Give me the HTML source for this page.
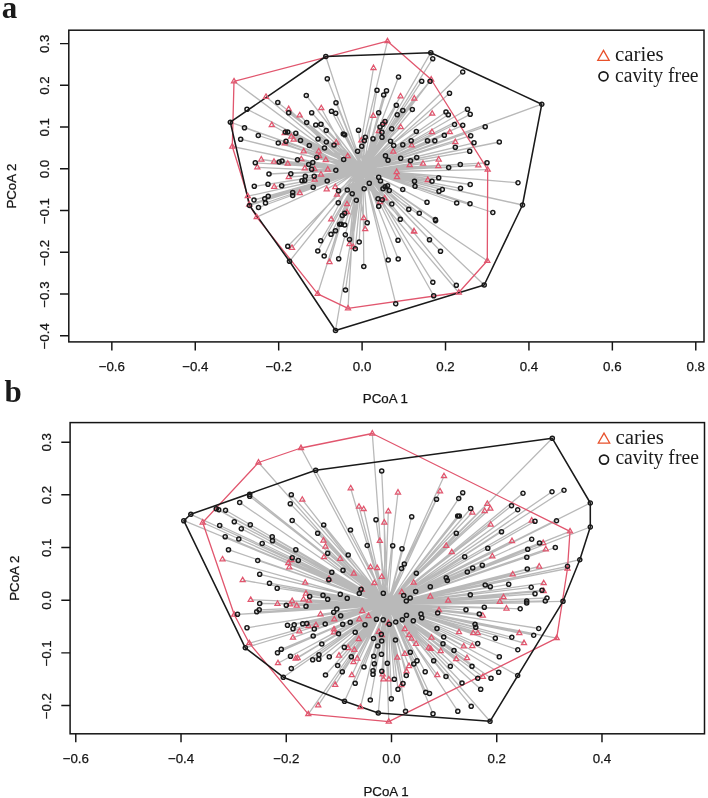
<!DOCTYPE html>
<html><head><meta charset="utf-8"><title>PCoA</title>
<style>
html,body{margin:0;padding:0;background:#fff}
svg{display:block}
.tl{font-family:"Liberation Sans",sans-serif;font-size:13.3px;fill:#151515;stroke:#151515;stroke-width:0.25px}
.lg{font-family:"Liberation Serif",serif;font-size:20px;fill:#1a1a1a}
.pl{font-family:"Liberation Serif",serif;font-size:31px;font-weight:bold;fill:#1a1a1a}
</style></head><body>
<svg width="708" height="798" viewBox="0 0 708 798">
<rect width="708" height="798" fill="#fff"/>
<text x="1.8" y="17.8" class="pl">a</text>
<text x="4.6" y="402.1" class="pl">b</text>
<path d="M363 169.5L325.8 56.5M363 169.5L327.3 78.8M363 169.5L306.3 95.5M363 169.5L336.0 102.7M363 169.5L277.8 102.5M363 169.5L247.0 109.2M363 169.5L230.3 122.2M363 169.5L288.7 112.8M363 169.5L311.7 112.7M363 169.5L331.5 111.2M363 169.5L335.7 113.3M363 169.5L306.7 122.5M363 169.5L315.8 125.0M363 169.5L321.0 124.3M363 169.5L244.5 127.7M363 169.5L326.2 130.5M363 169.5L285.3 132.0M363 169.5L287.7 132.0M363 169.5L295.8 133.3M363 169.5L258.3 135.5M363 169.5L240.7 139.2M363 169.5L318.0 139.0M363 169.5L300.5 140.5M363 169.5L286.0 141.3M363 169.5L278.3 143.0M363 169.5L326.3 142.0M363 169.5L309.3 145.5M363 169.5L334.0 145.0M363 169.5L324.5 148.0M363 169.5L255.3 162.8M363 169.5L279.2 162.0M363 169.5L282.0 161.0M363 169.5L297.5 159.7M363 169.5L316.7 157.5M363 169.5L312.8 162.5M363 169.5L308.7 164.5M363 169.5L430.8 52.7M363 169.5L432.7 58.7M363 169.5L398.5 77.0M363 169.5L421.7 81.2M363 169.5L430.0 81.2M363 169.5L449.5 93.3M363 169.5L377.0 90.3M363 169.5L386.5 90.7M363 169.5L383.7 95.0M363 169.5L396.3 105.3M363 169.5L402.8 110.5M363 169.5L412.3 109.5M363 169.5L397.2 114.8M363 169.5L378.7 112.7M363 169.5L446.0 112.0M363 169.5L448.3 114.8M363 169.5L385.0 121.5M363 169.5L382.7 124.2M363 169.5L380.0 127.0M363 169.5L391.7 128.8M363 169.5L454.5 124.5M363 169.5L358.5 130.3M363 169.5L416.3 131.5M363 169.5L382.0 132.3M363 169.5L344.7 134.8M363 169.5L343.3 134.0M363 169.5L365.3 137.3M363 169.5L382.0 137.3M363 169.5L373.0 138.7M363 169.5L364.3 140.7M363 169.5L444.3 135.3M363 169.5L390.5 141.2M363 169.5L411.2 140.8M363 169.5L427.5 140.8M363 169.5L434.8 140.7M363 169.5L393.7 145.5M363 169.5L402.8 144.7M363 169.5L361.7 146.2M363 169.5L357.5 151.3M363 169.5L455.3 147.3M363 169.5L385.5 155.7M363 169.5L388.0 160.3M363 169.5L400.7 158.3M363 169.5L410.5 160.7M363 169.5L416.7 157.5M363 169.5L343.7 159.5M363 169.5L462.7 72.0M363 169.5L467.5 109.2M363 169.5L470.2 114.3M363 169.5L462.7 125.3M363 169.5L485.2 126.7M363 169.5L470.7 135.7M363 169.5L474.0 142.8M363 169.5L499.3 142.0M363 169.5L469.7 151.3M363 169.5L541.8 104.2M363 169.5L487.0 162.8M363 169.5L460.3 164.5M363 169.5L311.7 169.2M363 169.5L335.8 170.3M363 169.5L269.0 174.0M363 169.5L290.8 173.7M363 169.5L305.3 176.3M363 169.5L314.2 176.3M363 169.5L302.0 180.8M363 169.5L304.7 180.5M363 169.5L327.2 181.0M363 169.5L268.0 184.3M363 169.5L281.7 185.8M363 169.5L254.3 186.3M363 169.5L313.2 187.3M363 169.5L292.7 192.5M363 169.5L292.7 195.5M363 169.5L268.2 196.3M363 169.5L264.7 198.8M363 169.5L254.0 200.0M363 169.5L265.5 203.0M363 169.5L258.5 207.5M363 169.5L249.5 205.5M363 169.5L338.3 202.8M363 169.5L339.7 224.2M363 169.5L335.5 230.8M363 169.5L331.0 234.3M363 169.5L320.7 240.8M363 169.5L287.8 246.3M363 169.5L317.8 251.0M363 169.5L324.2 256.0M363 169.5L338.7 258.8M363 169.5L289.5 261.3M363 169.5L448.7 167.5M363 169.5L438.7 177.8M363 169.5L378.7 177.3M363 169.5L380.5 181.0M363 169.5L414.5 181.3M363 169.5L432.0 181.2M363 169.5L369.3 183.3M363 169.5L387.5 185.8M363 169.5L385.0 186.7M363 169.5L415.0 186.3M363 169.5L383.0 188.7M363 169.5L364.2 188.7M363 169.5L389.3 190.5M363 169.5L402.7 189.5M363 169.5L442.3 189.5M363 169.5L439.0 191.3M363 169.5L347.3 190.0M363 169.5L352.2 193.7M363 169.5L356.3 200.3M363 169.5L378.0 198.8M363 169.5L382.2 199.7M363 169.5L427.0 202.3M363 169.5L456.7 203.0M363 169.5L391.8 204.0M363 169.5L378.7 206.3M363 169.5L408.8 209.3M363 169.5L419.3 213.2M363 169.5L344.7 213.3M363 169.5L342.3 215.5M363 169.5L435.3 219.5M363 169.5L400.3 219.2M363 169.5L367.2 222.7M363 169.5L341.3 224.2M363 169.5L344.7 225.0M363 169.5L345.3 234.7M363 169.5L349.5 239.5M363 169.5L359.2 242.0M363 169.5L398.0 240.3M363 169.5L429.5 239.8M363 169.5L355.3 248.7M363 169.5L440.5 251.2M363 169.5L388.2 260.0M363 169.5L398.2 259.0M363 169.5L363.8 266.5M363 169.5L432.8 282.2M363 169.5L456.3 285.3M363 169.5L345.5 290.0M363 169.5L433.7 295.8M363 169.5L518.0 182.8M363 169.5L470.2 184.5M363 169.5L460.5 188.3M363 169.5L470.0 203.7M363 169.5L492.8 212.5M363 169.5L522.5 205.0M363 169.5L484.2 285.0M363 169.5L335.5 330.5M363 169.5L395.7 303.7M363 169.5L338.5 190.8M363 169.5L435.6 220.6M356 172L234.0 81.3M356 172L266.0 96.8M356 172L288.7 109.0M356 172L321.3 108.2M356 172L299.7 115.3M356 172L271.8 125.0M356 172L284.7 133.2M356 172L291.3 136.7M356 172L293.7 139.5M356 172L284.8 143.3M356 172L232.3 146.5M356 172L303.7 151.3M356 172L318.7 151.3M356 172L336.3 142.5M356 172L261.3 159.5M356 172L274.0 161.7M356 172L301.3 159.2M356 172L319.2 156.2M356 172L325.8 160.0M356 172L287.8 163.7M356 172L387.5 41.2M356 172L373.5 68.0M356 172L431.2 79.5M356 172L400.5 96.3M356 172L414.3 98.5M356 172L373.2 115.8M356 172L432.2 113.7M356 172L383.7 122.8M356 172L400.7 127.2M356 172L378.7 131.2M356 172L432.0 132.0M356 172L449.8 132.2M356 172L361.3 140.3M356 172L411.7 145.3M356 172L455.3 142.0M356 172L393.3 151.7M356 172L347.7 156.2M356 172L438.7 159.5M356 172L423.0 163.7M356 172L409.7 165.0M356 172L478.3 165.3M356 172L257.3 167.3M356 172L304.8 168.3M356 172L314.5 169.2M356 172L327.8 169.5M356 172L321.0 174.5M356 172L288.8 177.0M356 172L314.7 179.7M356 172L274.2 186.8M356 172L326.7 189.3M356 172L335.3 187.0M356 172L299.8 193.0M356 172L337.0 194.7M356 172L247.8 196.2M356 172L249.2 204.5M356 172L256.7 217.2M356 172L331.2 219.3M356 172L292.0 247.8M356 172L329.5 262.0M356 172L317.7 293.8M356 172L396.7 172.0M356 172L397.0 177.0M356 172L427.8 180.0M356 172L384.7 198.3M356 172L380.0 202.0M356 172L347.0 204.2M356 172L347.0 212.2M356 172L363.8 218.2M356 172L365.2 229.2M356 172L414.0 231.2M356 172L414.3 231.7M356 172L349.5 244.0M356 172L353.3 247.0M356 172L487.7 169.7M356 172L487.3 260.8M356 172L458.8 292.5M356 172L348 308.3M356 172L438.3 166" stroke="#b9b9b9" stroke-width="1.3" fill="none"/>
<path d="M234 81.3 L387.5 41.2 L431.2 79.5 L487.7 169.7 L487.3 260.8 L458.8 292.5 L348 308.3 L317.7 293.8 L256.7 217.2 L249.2 204.5 L247.8 196.2 L232.3 146.5Z" stroke="#e1566e" stroke-width="1.3" fill="none" stroke-linejoin="round"/>
<path d="M230.3 122.2 L325.8 56.5 L430.8 52.7 L541.8 104.2 L522.5 205 L484.2 285 L335.5 330.5 L289.5 261.3 L249.5 205.5Z" stroke="#1a1a1a" stroke-width="1.55" fill="none" stroke-linejoin="round"/>
<path d="M234.0 78.39999999999999L236.55 82.8L231.45 82.8ZM266.0 93.89999999999999L268.55 98.3L263.45 98.3ZM288.7 106.1L291.25 110.5L286.15 110.5ZM321.3 105.3L323.85 109.7L318.75 109.7ZM299.7 112.39999999999999L302.25 116.8L297.15 116.8ZM271.8 122.1L274.35 126.5L269.25 126.5ZM284.7 130.29999999999998L287.25 134.7L282.15 134.7ZM291.3 133.79999999999998L293.85 138.2L288.75 138.2ZM293.7 136.6L296.25 141.0L291.15 141.0ZM284.8 140.4L287.35 144.8L282.25 144.8ZM232.3 143.6L234.85000000000002 148.0L229.75 148.0ZM303.7 148.4L306.25 152.8L301.15 152.8ZM318.7 148.4L321.25 152.8L316.15 152.8ZM336.3 139.6L338.85 144.0L333.75 144.0ZM261.3 156.6L263.85 161.0L258.75 161.0ZM274.0 158.79999999999998L276.55 163.2L271.45 163.2ZM301.3 156.29999999999998L303.85 160.7L298.75 160.7ZM319.2 153.29999999999998L321.75 157.7L316.65 157.7ZM325.8 157.1L328.35 161.5L323.25 161.5ZM287.8 160.79999999999998L290.35 165.2L285.25 165.2ZM387.5 38.300000000000004L390.05 42.7L384.95 42.7ZM373.5 65.1L376.05 69.5L370.95 69.5ZM431.2 76.6L433.75 81.0L428.65 81.0ZM400.5 93.39999999999999L403.05 97.8L397.95 97.8ZM414.3 95.6L416.85 100.0L411.75 100.0ZM373.2 112.89999999999999L375.75 117.3L370.65 117.3ZM432.2 110.8L434.75 115.2L429.65 115.2ZM383.7 119.89999999999999L386.25 124.3L381.15 124.3ZM400.7 124.3L403.25 128.7L398.15 128.7ZM378.7 128.29999999999998L381.25 132.7L376.15 132.7ZM432.0 129.1L434.55 133.5L429.45 133.5ZM449.8 129.29999999999998L452.35 133.7L447.25 133.7ZM361.3 137.4L363.85 141.8L358.75 141.8ZM411.7 142.4L414.25 146.8L409.15 146.8ZM455.3 139.1L457.85 143.5L452.75 143.5ZM393.3 148.79999999999998L395.85 153.2L390.75 153.2ZM347.7 153.29999999999998L350.25 157.7L345.15 157.7ZM438.7 156.6L441.25 161.0L436.15 161.0ZM423.0 160.79999999999998L425.55 165.2L420.45 165.2ZM409.7 162.1L412.25 166.5L407.15 166.5ZM478.3 162.4L480.85 166.8L475.75 166.8ZM257.3 164.4L259.85 168.8L254.75 168.8ZM304.8 165.4L307.35 169.8L302.25 169.8ZM314.5 166.29999999999998L317.05 170.7L311.95 170.7ZM327.8 166.6L330.35 171.0L325.25 171.0ZM321.0 171.6L323.55 176.0L318.45 176.0ZM288.8 174.1L291.35 178.5L286.25 178.5ZM314.7 176.79999999999998L317.25 181.2L312.15 181.2ZM274.2 183.9L276.75 188.3L271.65 188.3ZM326.7 186.4L329.25 190.8L324.15 190.8ZM335.3 184.1L337.85 188.5L332.75 188.5ZM299.8 190.1L302.35 194.5L297.25 194.5ZM337.0 191.79999999999998L339.55 196.2L334.45 196.2ZM247.8 193.29999999999998L250.35000000000002 197.7L245.25 197.7ZM249.2 201.6L251.75 206.0L246.64999999999998 206.0ZM256.7 214.29999999999998L259.25 218.7L254.14999999999998 218.7ZM331.2 216.4L333.75 220.8L328.65 220.8ZM292.0 244.9L294.55 249.3L289.45 249.3ZM329.5 259.1L332.05 263.5L326.95 263.5ZM317.7 290.90000000000003L320.25 295.3L315.15 295.3ZM396.7 169.1L399.25 173.5L394.15 173.5ZM397.0 174.1L399.55 178.5L394.45 178.5ZM427.8 177.1L430.35 181.5L425.25 181.5ZM384.7 195.4L387.25 199.8L382.15 199.8ZM380.0 199.1L382.55 203.5L377.45 203.5ZM347.0 201.29999999999998L349.55 205.7L344.45 205.7ZM347.0 209.29999999999998L349.55 213.7L344.45 213.7ZM363.8 215.29999999999998L366.35 219.7L361.25 219.7ZM365.2 226.29999999999998L367.75 230.7L362.65 230.7ZM414.0 228.29999999999998L416.55 232.7L411.45 232.7ZM414.3 228.79999999999998L416.85 233.2L411.75 233.2ZM349.5 241.1L352.05 245.5L346.95 245.5ZM353.3 244.1L355.85 248.5L350.75 248.5ZM487.7 166.79999999999998L490.25 171.2L485.15 171.2ZM487.3 257.90000000000003L489.85 262.3L484.75 262.3ZM458.8 289.6L461.35 294.0L456.25 294.0ZM348 305.40000000000003L350.55 309.8L345.45 309.8ZM438.3 163.1L440.85 167.5L435.75 167.5Z" stroke="#e1566e" stroke-width="1.25" fill="none"/>
<path d="M323.75 56.5a2.05 2.05 0 1 0 4.1 0a2.05 2.05 0 1 0 -4.1 0ZM325.25 78.8a2.05 2.05 0 1 0 4.1 0a2.05 2.05 0 1 0 -4.1 0ZM304.25 95.5a2.05 2.05 0 1 0 4.1 0a2.05 2.05 0 1 0 -4.1 0ZM333.95 102.7a2.05 2.05 0 1 0 4.1 0a2.05 2.05 0 1 0 -4.1 0ZM275.75 102.5a2.05 2.05 0 1 0 4.1 0a2.05 2.05 0 1 0 -4.1 0ZM244.95 109.2a2.05 2.05 0 1 0 4.1 0a2.05 2.05 0 1 0 -4.1 0ZM228.25 122.2a2.05 2.05 0 1 0 4.1 0a2.05 2.05 0 1 0 -4.1 0ZM286.65 112.8a2.05 2.05 0 1 0 4.1 0a2.05 2.05 0 1 0 -4.1 0ZM309.65 112.7a2.05 2.05 0 1 0 4.1 0a2.05 2.05 0 1 0 -4.1 0ZM329.45 111.2a2.05 2.05 0 1 0 4.1 0a2.05 2.05 0 1 0 -4.1 0ZM333.65 113.3a2.05 2.05 0 1 0 4.1 0a2.05 2.05 0 1 0 -4.1 0ZM304.65 122.5a2.05 2.05 0 1 0 4.1 0a2.05 2.05 0 1 0 -4.1 0ZM313.75 125.0a2.05 2.05 0 1 0 4.1 0a2.05 2.05 0 1 0 -4.1 0ZM318.95 124.3a2.05 2.05 0 1 0 4.1 0a2.05 2.05 0 1 0 -4.1 0ZM242.45 127.7a2.05 2.05 0 1 0 4.1 0a2.05 2.05 0 1 0 -4.1 0ZM324.15 130.5a2.05 2.05 0 1 0 4.1 0a2.05 2.05 0 1 0 -4.1 0ZM283.25 132.0a2.05 2.05 0 1 0 4.1 0a2.05 2.05 0 1 0 -4.1 0ZM285.65 132.0a2.05 2.05 0 1 0 4.1 0a2.05 2.05 0 1 0 -4.1 0ZM293.75 133.3a2.05 2.05 0 1 0 4.1 0a2.05 2.05 0 1 0 -4.1 0ZM256.25 135.5a2.05 2.05 0 1 0 4.1 0a2.05 2.05 0 1 0 -4.1 0ZM238.64999999999998 139.2a2.05 2.05 0 1 0 4.1 0a2.05 2.05 0 1 0 -4.1 0ZM315.95 139.0a2.05 2.05 0 1 0 4.1 0a2.05 2.05 0 1 0 -4.1 0ZM298.45 140.5a2.05 2.05 0 1 0 4.1 0a2.05 2.05 0 1 0 -4.1 0ZM283.95 141.3a2.05 2.05 0 1 0 4.1 0a2.05 2.05 0 1 0 -4.1 0ZM276.25 143.0a2.05 2.05 0 1 0 4.1 0a2.05 2.05 0 1 0 -4.1 0ZM324.25 142.0a2.05 2.05 0 1 0 4.1 0a2.05 2.05 0 1 0 -4.1 0ZM307.25 145.5a2.05 2.05 0 1 0 4.1 0a2.05 2.05 0 1 0 -4.1 0ZM331.95 145.0a2.05 2.05 0 1 0 4.1 0a2.05 2.05 0 1 0 -4.1 0ZM322.45 148.0a2.05 2.05 0 1 0 4.1 0a2.05 2.05 0 1 0 -4.1 0ZM253.25 162.8a2.05 2.05 0 1 0 4.1 0a2.05 2.05 0 1 0 -4.1 0ZM277.15 162.0a2.05 2.05 0 1 0 4.1 0a2.05 2.05 0 1 0 -4.1 0ZM279.95 161.0a2.05 2.05 0 1 0 4.1 0a2.05 2.05 0 1 0 -4.1 0ZM295.45 159.7a2.05 2.05 0 1 0 4.1 0a2.05 2.05 0 1 0 -4.1 0ZM314.65 157.5a2.05 2.05 0 1 0 4.1 0a2.05 2.05 0 1 0 -4.1 0ZM310.75 162.5a2.05 2.05 0 1 0 4.1 0a2.05 2.05 0 1 0 -4.1 0ZM306.65 164.5a2.05 2.05 0 1 0 4.1 0a2.05 2.05 0 1 0 -4.1 0ZM428.75 52.7a2.05 2.05 0 1 0 4.1 0a2.05 2.05 0 1 0 -4.1 0ZM430.65 58.7a2.05 2.05 0 1 0 4.1 0a2.05 2.05 0 1 0 -4.1 0ZM396.45 77.0a2.05 2.05 0 1 0 4.1 0a2.05 2.05 0 1 0 -4.1 0ZM419.65 81.2a2.05 2.05 0 1 0 4.1 0a2.05 2.05 0 1 0 -4.1 0ZM427.95 81.2a2.05 2.05 0 1 0 4.1 0a2.05 2.05 0 1 0 -4.1 0ZM447.45 93.3a2.05 2.05 0 1 0 4.1 0a2.05 2.05 0 1 0 -4.1 0ZM374.95 90.3a2.05 2.05 0 1 0 4.1 0a2.05 2.05 0 1 0 -4.1 0ZM384.45 90.7a2.05 2.05 0 1 0 4.1 0a2.05 2.05 0 1 0 -4.1 0ZM381.65 95.0a2.05 2.05 0 1 0 4.1 0a2.05 2.05 0 1 0 -4.1 0ZM394.25 105.3a2.05 2.05 0 1 0 4.1 0a2.05 2.05 0 1 0 -4.1 0ZM400.75 110.5a2.05 2.05 0 1 0 4.1 0a2.05 2.05 0 1 0 -4.1 0ZM410.25 109.5a2.05 2.05 0 1 0 4.1 0a2.05 2.05 0 1 0 -4.1 0ZM395.15 114.8a2.05 2.05 0 1 0 4.1 0a2.05 2.05 0 1 0 -4.1 0ZM376.65 112.7a2.05 2.05 0 1 0 4.1 0a2.05 2.05 0 1 0 -4.1 0ZM443.95 112.0a2.05 2.05 0 1 0 4.1 0a2.05 2.05 0 1 0 -4.1 0ZM446.25 114.8a2.05 2.05 0 1 0 4.1 0a2.05 2.05 0 1 0 -4.1 0ZM382.95 121.5a2.05 2.05 0 1 0 4.1 0a2.05 2.05 0 1 0 -4.1 0ZM380.65 124.2a2.05 2.05 0 1 0 4.1 0a2.05 2.05 0 1 0 -4.1 0ZM377.95 127.0a2.05 2.05 0 1 0 4.1 0a2.05 2.05 0 1 0 -4.1 0ZM389.65 128.8a2.05 2.05 0 1 0 4.1 0a2.05 2.05 0 1 0 -4.1 0ZM452.45 124.5a2.05 2.05 0 1 0 4.1 0a2.05 2.05 0 1 0 -4.1 0ZM356.45 130.3a2.05 2.05 0 1 0 4.1 0a2.05 2.05 0 1 0 -4.1 0ZM414.25 131.5a2.05 2.05 0 1 0 4.1 0a2.05 2.05 0 1 0 -4.1 0ZM379.95 132.3a2.05 2.05 0 1 0 4.1 0a2.05 2.05 0 1 0 -4.1 0ZM342.65 134.8a2.05 2.05 0 1 0 4.1 0a2.05 2.05 0 1 0 -4.1 0ZM341.25 134.0a2.05 2.05 0 1 0 4.1 0a2.05 2.05 0 1 0 -4.1 0ZM363.25 137.3a2.05 2.05 0 1 0 4.1 0a2.05 2.05 0 1 0 -4.1 0ZM379.95 137.3a2.05 2.05 0 1 0 4.1 0a2.05 2.05 0 1 0 -4.1 0ZM370.95 138.7a2.05 2.05 0 1 0 4.1 0a2.05 2.05 0 1 0 -4.1 0ZM362.25 140.7a2.05 2.05 0 1 0 4.1 0a2.05 2.05 0 1 0 -4.1 0ZM442.25 135.3a2.05 2.05 0 1 0 4.1 0a2.05 2.05 0 1 0 -4.1 0ZM388.45 141.2a2.05 2.05 0 1 0 4.1 0a2.05 2.05 0 1 0 -4.1 0ZM409.15 140.8a2.05 2.05 0 1 0 4.1 0a2.05 2.05 0 1 0 -4.1 0ZM425.45 140.8a2.05 2.05 0 1 0 4.1 0a2.05 2.05 0 1 0 -4.1 0ZM432.75 140.7a2.05 2.05 0 1 0 4.1 0a2.05 2.05 0 1 0 -4.1 0ZM391.65 145.5a2.05 2.05 0 1 0 4.1 0a2.05 2.05 0 1 0 -4.1 0ZM400.75 144.7a2.05 2.05 0 1 0 4.1 0a2.05 2.05 0 1 0 -4.1 0ZM359.65 146.2a2.05 2.05 0 1 0 4.1 0a2.05 2.05 0 1 0 -4.1 0ZM355.45 151.3a2.05 2.05 0 1 0 4.1 0a2.05 2.05 0 1 0 -4.1 0ZM453.25 147.3a2.05 2.05 0 1 0 4.1 0a2.05 2.05 0 1 0 -4.1 0ZM383.45 155.7a2.05 2.05 0 1 0 4.1 0a2.05 2.05 0 1 0 -4.1 0ZM385.95 160.3a2.05 2.05 0 1 0 4.1 0a2.05 2.05 0 1 0 -4.1 0ZM398.65 158.3a2.05 2.05 0 1 0 4.1 0a2.05 2.05 0 1 0 -4.1 0ZM408.45 160.7a2.05 2.05 0 1 0 4.1 0a2.05 2.05 0 1 0 -4.1 0ZM414.65 157.5a2.05 2.05 0 1 0 4.1 0a2.05 2.05 0 1 0 -4.1 0ZM341.65 159.5a2.05 2.05 0 1 0 4.1 0a2.05 2.05 0 1 0 -4.1 0ZM460.65 72.0a2.05 2.05 0 1 0 4.1 0a2.05 2.05 0 1 0 -4.1 0ZM465.45 109.2a2.05 2.05 0 1 0 4.1 0a2.05 2.05 0 1 0 -4.1 0ZM468.15 114.3a2.05 2.05 0 1 0 4.1 0a2.05 2.05 0 1 0 -4.1 0ZM460.65 125.3a2.05 2.05 0 1 0 4.1 0a2.05 2.05 0 1 0 -4.1 0ZM483.15 126.7a2.05 2.05 0 1 0 4.1 0a2.05 2.05 0 1 0 -4.1 0ZM468.65 135.7a2.05 2.05 0 1 0 4.1 0a2.05 2.05 0 1 0 -4.1 0ZM471.95 142.8a2.05 2.05 0 1 0 4.1 0a2.05 2.05 0 1 0 -4.1 0ZM497.25 142.0a2.05 2.05 0 1 0 4.1 0a2.05 2.05 0 1 0 -4.1 0ZM467.65 151.3a2.05 2.05 0 1 0 4.1 0a2.05 2.05 0 1 0 -4.1 0ZM539.75 104.2a2.05 2.05 0 1 0 4.1 0a2.05 2.05 0 1 0 -4.1 0ZM484.95 162.8a2.05 2.05 0 1 0 4.1 0a2.05 2.05 0 1 0 -4.1 0ZM458.25 164.5a2.05 2.05 0 1 0 4.1 0a2.05 2.05 0 1 0 -4.1 0ZM309.65 169.2a2.05 2.05 0 1 0 4.1 0a2.05 2.05 0 1 0 -4.1 0ZM333.75 170.3a2.05 2.05 0 1 0 4.1 0a2.05 2.05 0 1 0 -4.1 0ZM266.95 174.0a2.05 2.05 0 1 0 4.1 0a2.05 2.05 0 1 0 -4.1 0ZM288.75 173.7a2.05 2.05 0 1 0 4.1 0a2.05 2.05 0 1 0 -4.1 0ZM303.25 176.3a2.05 2.05 0 1 0 4.1 0a2.05 2.05 0 1 0 -4.1 0ZM312.15 176.3a2.05 2.05 0 1 0 4.1 0a2.05 2.05 0 1 0 -4.1 0ZM299.95 180.8a2.05 2.05 0 1 0 4.1 0a2.05 2.05 0 1 0 -4.1 0ZM302.65 180.5a2.05 2.05 0 1 0 4.1 0a2.05 2.05 0 1 0 -4.1 0ZM325.15 181.0a2.05 2.05 0 1 0 4.1 0a2.05 2.05 0 1 0 -4.1 0ZM265.95 184.3a2.05 2.05 0 1 0 4.1 0a2.05 2.05 0 1 0 -4.1 0ZM279.65 185.8a2.05 2.05 0 1 0 4.1 0a2.05 2.05 0 1 0 -4.1 0ZM252.25 186.3a2.05 2.05 0 1 0 4.1 0a2.05 2.05 0 1 0 -4.1 0ZM311.15 187.3a2.05 2.05 0 1 0 4.1 0a2.05 2.05 0 1 0 -4.1 0ZM290.65 192.5a2.05 2.05 0 1 0 4.1 0a2.05 2.05 0 1 0 -4.1 0ZM290.65 195.5a2.05 2.05 0 1 0 4.1 0a2.05 2.05 0 1 0 -4.1 0ZM266.15 196.3a2.05 2.05 0 1 0 4.1 0a2.05 2.05 0 1 0 -4.1 0ZM262.65 198.8a2.05 2.05 0 1 0 4.1 0a2.05 2.05 0 1 0 -4.1 0ZM251.95 200.0a2.05 2.05 0 1 0 4.1 0a2.05 2.05 0 1 0 -4.1 0ZM263.45 203.0a2.05 2.05 0 1 0 4.1 0a2.05 2.05 0 1 0 -4.1 0ZM256.45 207.5a2.05 2.05 0 1 0 4.1 0a2.05 2.05 0 1 0 -4.1 0ZM247.45 205.5a2.05 2.05 0 1 0 4.1 0a2.05 2.05 0 1 0 -4.1 0ZM336.25 202.8a2.05 2.05 0 1 0 4.1 0a2.05 2.05 0 1 0 -4.1 0ZM337.65 224.2a2.05 2.05 0 1 0 4.1 0a2.05 2.05 0 1 0 -4.1 0ZM333.45 230.8a2.05 2.05 0 1 0 4.1 0a2.05 2.05 0 1 0 -4.1 0ZM328.95 234.3a2.05 2.05 0 1 0 4.1 0a2.05 2.05 0 1 0 -4.1 0ZM318.65 240.8a2.05 2.05 0 1 0 4.1 0a2.05 2.05 0 1 0 -4.1 0ZM285.75 246.3a2.05 2.05 0 1 0 4.1 0a2.05 2.05 0 1 0 -4.1 0ZM315.75 251.0a2.05 2.05 0 1 0 4.1 0a2.05 2.05 0 1 0 -4.1 0ZM322.15 256.0a2.05 2.05 0 1 0 4.1 0a2.05 2.05 0 1 0 -4.1 0ZM336.65 258.8a2.05 2.05 0 1 0 4.1 0a2.05 2.05 0 1 0 -4.1 0ZM287.45 261.3a2.05 2.05 0 1 0 4.1 0a2.05 2.05 0 1 0 -4.1 0ZM446.65 167.5a2.05 2.05 0 1 0 4.1 0a2.05 2.05 0 1 0 -4.1 0ZM436.65 177.8a2.05 2.05 0 1 0 4.1 0a2.05 2.05 0 1 0 -4.1 0ZM376.65 177.3a2.05 2.05 0 1 0 4.1 0a2.05 2.05 0 1 0 -4.1 0ZM378.45 181.0a2.05 2.05 0 1 0 4.1 0a2.05 2.05 0 1 0 -4.1 0ZM412.45 181.3a2.05 2.05 0 1 0 4.1 0a2.05 2.05 0 1 0 -4.1 0ZM429.95 181.2a2.05 2.05 0 1 0 4.1 0a2.05 2.05 0 1 0 -4.1 0ZM367.25 183.3a2.05 2.05 0 1 0 4.1 0a2.05 2.05 0 1 0 -4.1 0ZM385.45 185.8a2.05 2.05 0 1 0 4.1 0a2.05 2.05 0 1 0 -4.1 0ZM382.95 186.7a2.05 2.05 0 1 0 4.1 0a2.05 2.05 0 1 0 -4.1 0ZM412.95 186.3a2.05 2.05 0 1 0 4.1 0a2.05 2.05 0 1 0 -4.1 0ZM380.95 188.7a2.05 2.05 0 1 0 4.1 0a2.05 2.05 0 1 0 -4.1 0ZM362.15 188.7a2.05 2.05 0 1 0 4.1 0a2.05 2.05 0 1 0 -4.1 0ZM387.25 190.5a2.05 2.05 0 1 0 4.1 0a2.05 2.05 0 1 0 -4.1 0ZM400.65 189.5a2.05 2.05 0 1 0 4.1 0a2.05 2.05 0 1 0 -4.1 0ZM440.25 189.5a2.05 2.05 0 1 0 4.1 0a2.05 2.05 0 1 0 -4.1 0ZM436.95 191.3a2.05 2.05 0 1 0 4.1 0a2.05 2.05 0 1 0 -4.1 0ZM345.25 190.0a2.05 2.05 0 1 0 4.1 0a2.05 2.05 0 1 0 -4.1 0ZM350.15 193.7a2.05 2.05 0 1 0 4.1 0a2.05 2.05 0 1 0 -4.1 0ZM354.25 200.3a2.05 2.05 0 1 0 4.1 0a2.05 2.05 0 1 0 -4.1 0ZM375.95 198.8a2.05 2.05 0 1 0 4.1 0a2.05 2.05 0 1 0 -4.1 0ZM380.15 199.7a2.05 2.05 0 1 0 4.1 0a2.05 2.05 0 1 0 -4.1 0ZM424.95 202.3a2.05 2.05 0 1 0 4.1 0a2.05 2.05 0 1 0 -4.1 0ZM454.65 203.0a2.05 2.05 0 1 0 4.1 0a2.05 2.05 0 1 0 -4.1 0ZM389.75 204.0a2.05 2.05 0 1 0 4.1 0a2.05 2.05 0 1 0 -4.1 0ZM376.65 206.3a2.05 2.05 0 1 0 4.1 0a2.05 2.05 0 1 0 -4.1 0ZM406.75 209.3a2.05 2.05 0 1 0 4.1 0a2.05 2.05 0 1 0 -4.1 0ZM417.25 213.2a2.05 2.05 0 1 0 4.1 0a2.05 2.05 0 1 0 -4.1 0ZM342.65 213.3a2.05 2.05 0 1 0 4.1 0a2.05 2.05 0 1 0 -4.1 0ZM340.25 215.5a2.05 2.05 0 1 0 4.1 0a2.05 2.05 0 1 0 -4.1 0ZM433.25 219.5a2.05 2.05 0 1 0 4.1 0a2.05 2.05 0 1 0 -4.1 0ZM398.25 219.2a2.05 2.05 0 1 0 4.1 0a2.05 2.05 0 1 0 -4.1 0ZM365.15 222.7a2.05 2.05 0 1 0 4.1 0a2.05 2.05 0 1 0 -4.1 0ZM339.25 224.2a2.05 2.05 0 1 0 4.1 0a2.05 2.05 0 1 0 -4.1 0ZM342.65 225.0a2.05 2.05 0 1 0 4.1 0a2.05 2.05 0 1 0 -4.1 0ZM343.25 234.7a2.05 2.05 0 1 0 4.1 0a2.05 2.05 0 1 0 -4.1 0ZM347.45 239.5a2.05 2.05 0 1 0 4.1 0a2.05 2.05 0 1 0 -4.1 0ZM357.15 242.0a2.05 2.05 0 1 0 4.1 0a2.05 2.05 0 1 0 -4.1 0ZM395.95 240.3a2.05 2.05 0 1 0 4.1 0a2.05 2.05 0 1 0 -4.1 0ZM427.45 239.8a2.05 2.05 0 1 0 4.1 0a2.05 2.05 0 1 0 -4.1 0ZM353.25 248.7a2.05 2.05 0 1 0 4.1 0a2.05 2.05 0 1 0 -4.1 0ZM438.45 251.2a2.05 2.05 0 1 0 4.1 0a2.05 2.05 0 1 0 -4.1 0ZM386.15 260.0a2.05 2.05 0 1 0 4.1 0a2.05 2.05 0 1 0 -4.1 0ZM396.15 259.0a2.05 2.05 0 1 0 4.1 0a2.05 2.05 0 1 0 -4.1 0ZM361.75 266.5a2.05 2.05 0 1 0 4.1 0a2.05 2.05 0 1 0 -4.1 0ZM430.75 282.2a2.05 2.05 0 1 0 4.1 0a2.05 2.05 0 1 0 -4.1 0ZM454.25 285.3a2.05 2.05 0 1 0 4.1 0a2.05 2.05 0 1 0 -4.1 0ZM343.45 290.0a2.05 2.05 0 1 0 4.1 0a2.05 2.05 0 1 0 -4.1 0ZM431.65 295.8a2.05 2.05 0 1 0 4.1 0a2.05 2.05 0 1 0 -4.1 0ZM515.95 182.8a2.05 2.05 0 1 0 4.1 0a2.05 2.05 0 1 0 -4.1 0ZM468.15 184.5a2.05 2.05 0 1 0 4.1 0a2.05 2.05 0 1 0 -4.1 0ZM458.45 188.3a2.05 2.05 0 1 0 4.1 0a2.05 2.05 0 1 0 -4.1 0ZM467.95 203.7a2.05 2.05 0 1 0 4.1 0a2.05 2.05 0 1 0 -4.1 0ZM490.75 212.5a2.05 2.05 0 1 0 4.1 0a2.05 2.05 0 1 0 -4.1 0ZM520.45 205.0a2.05 2.05 0 1 0 4.1 0a2.05 2.05 0 1 0 -4.1 0ZM482.15 285.0a2.05 2.05 0 1 0 4.1 0a2.05 2.05 0 1 0 -4.1 0ZM333.45 330.5a2.05 2.05 0 1 0 4.1 0a2.05 2.05 0 1 0 -4.1 0ZM393.65 303.7a2.05 2.05 0 1 0 4.1 0a2.05 2.05 0 1 0 -4.1 0ZM336.45 190.8a2.05 2.05 0 1 0 4.1 0a2.05 2.05 0 1 0 -4.1 0ZM433.55 220.6a2.05 2.05 0 1 0 4.1 0a2.05 2.05 0 1 0 -4.1 0Z" stroke="#1a1a1a" stroke-width="1.5" fill="none"/>
<rect x="68.8" y="30.2" width="635.2" height="311.7" fill="none" stroke="#141414" stroke-width="1.5"/>
<text x="111.84000000000003" y="371.3" text-anchor="middle" class="tl">−0.6</text>
<text x="195.26" y="371.3" text-anchor="middle" class="tl">−0.4</text>
<text x="278.68" y="371.3" text-anchor="middle" class="tl">−0.2</text>
<text x="362.1" y="371.3" text-anchor="middle" class="tl">0.0</text>
<text x="445.52000000000004" y="371.3" text-anchor="middle" class="tl">0.2</text>
<text x="528.94" y="371.3" text-anchor="middle" class="tl">0.4</text>
<text x="612.36" y="371.3" text-anchor="middle" class="tl">0.6</text>
<text x="695.7800000000001" y="371.3" text-anchor="middle" class="tl">0.8</text>
<text transform="translate(48.7 43.81000000000002) rotate(-90)" text-anchor="middle" class="tl">0.3</text>
<text transform="translate(48.7 85.54) rotate(-90)" text-anchor="middle" class="tl">0.2</text>
<text transform="translate(48.7 127.27000000000001) rotate(-90)" text-anchor="middle" class="tl">0.1</text>
<text transform="translate(48.7 169.0) rotate(-90)" text-anchor="middle" class="tl">0.0</text>
<text transform="translate(48.7 211.13000000000002) rotate(-90)" text-anchor="middle" class="tl">−0.1</text>
<text transform="translate(48.7 252.86) rotate(-90)" text-anchor="middle" class="tl">−0.2</text>
<text transform="translate(48.7 294.59000000000003) rotate(-90)" text-anchor="middle" class="tl">−0.3</text>
<text transform="translate(48.7 336.32000000000005) rotate(-90)" text-anchor="middle" class="tl">−0.4</text>
<path d="M111.84000000000003 341.9v8.5M195.26 341.9v8.5M278.68 341.9v8.5M362.1 341.9v8.5M445.52000000000004 341.9v8.5M528.94 341.9v8.5M612.36 341.9v8.5M695.7800000000001 341.9v8.5M68.8 43.610000000000014h-8.8M68.8 85.34h-8.8M68.8 127.07000000000001h-8.8M68.8 168.8h-8.8M68.8 210.53000000000003h-8.8M68.8 252.26000000000002h-8.8M68.8 293.99h-8.8M68.8 335.72h-8.8" stroke="#141414" stroke-width="1.45" fill="none"/>
<text x="385.4" y="403.4" text-anchor="middle" class="tl">PCoA 1</text>
<text transform="translate(16.0 186.04999999999998) rotate(-90)" text-anchor="middle" class="tl">PCoA 2</text>
<path d="M603.5 50.4L609.2 60.35L597.8 60.35Z" fill="none" stroke="#e8512b" stroke-width="1.3"/>
<circle cx="603.5" cy="76.3" r="4.5" fill="none" stroke="#1a1a1a" stroke-width="1.7"/>
<text x="615.1" y="60.6" class="lg" textLength="48.6" lengthAdjust="spacingAndGlyphs">caries</text>
<text x="615.1" y="81.5" class="lg" textLength="83.5" lengthAdjust="spacingAndGlyphs">cavity free</text>
<path d="M388 604.5L249.7 494.2M388 604.5L249.7 496.3M388 604.5L291.3 494.7M388 604.5L239.7 502.5M388 604.5L290.3 503.8M388 604.5L216.3 508.8M388 604.5L218.7 509.7M388 604.5L225.5 510.3M388 604.5L190.8 514.3M388 604.5L183.8 520.7M388 604.5L292.2 520.5M388 604.5L234.3 521.7M388 604.5L250.3 524.7M388 604.5L219.7 525.5M388 604.5L241.3 528.7M388 604.5L225.2 536.7M388 604.5L238.8 539.0M388 604.5L272.2 536.8M388 604.5L272.5 540.7M388 604.5L262.2 543.5M388 604.5L228.5 549.7M388 604.5L295.8 549.7M388 604.5L292.2 557.7M388 604.5L257.7 560.5M388 604.5L315.7 470.3M388 604.5L381.7 471.0M388 604.5L411.7 516.8M388 604.5L376.0 519.8M388 604.5L323.7 525.0M388 604.5L350.5 530.0M388 604.5L317.7 533.3M388 604.5L367.2 545.5M388 604.5L392.7 545.8M388 604.5L402.0 548.8M388 604.5L327.7 553.3M388 604.5L348.2 555.0M388 604.5L298.3 560.5M388 604.5L462.7 492.7M388 604.5L458.7 498.5M388 604.5L436.5 499.3M388 604.5L523.0 493.3M388 604.5L470.7 508.5M388 604.5L511.5 505.8M388 604.5L517.7 509.7M388 604.5L457.7 516.0M388 604.5L459.3 516.0M388 604.5L456.3 533.3M388 604.5L501.5 531.7M388 604.5L531.7 539.3M388 604.5L487.8 548.3M388 604.5L527.7 549.2M388 604.5L464.7 556.8M388 604.5L526.8 557.2M388 604.5L552.3 438.3M388 604.5L552.0 491.7M388 604.5L564.0 490.2M388 604.5L590.3 503.0M388 604.5L556.5 520.7M388 604.5L590.3 527.0M388 604.5L535.0 521.3M388 604.5L539.5 543.0M388 604.5L555.3 547.5M388 604.5L579.8 559.7M388 604.5L259.7 574.3M388 604.5L269.5 583.2M388 604.5L277.2 588.2M388 604.5L259.7 603.5M388 604.5L286.3 605.2M388 604.5L259.2 609.8M388 604.5L256.7 611.8M388 604.5L237.5 614.3M388 604.5L247.0 627.8M388 604.5L287.5 625.3M388 604.5L294.2 624.7M388 604.5L293.0 628.8M388 604.5L245.3 647.8M388 604.5L281.3 649.3M388 604.5L277.5 652.7M388 604.5L290.5 656.3M388 604.5L291.3 668.5M388 604.5L283.3 677.2M388 604.5L404.3 564.0M388 604.5L401.5 568.5M388 604.5L343.0 570.2M388 604.5L331.8 572.3M388 604.5L328.8 579.7M388 604.5L361.0 589.3M388 604.5L359.3 593.5M388 604.5L383.3 593.2M388 604.5L323.0 595.2M388 604.5L340.3 594.3M388 604.5L309.7 596.5M388 604.5L327.7 599.3M388 604.5L347.2 598.3M388 604.5L403.7 595.5M388 604.5L410.2 598.0M388 604.5L406.3 601.0M388 604.5L306.0 606.3M388 604.5L336.8 609.0M388 604.5L333.7 612.3M388 604.5L340.7 615.7M388 604.5L406.5 615.2M388 604.5L376.5 619.3M388 604.5L383.2 619.7M388 604.5L402.3 619.8M388 604.5L395.7 622.0M388 604.5L389.3 624.3M388 604.5L413.3 620.7M388 604.5L350.2 622.3M388 604.5L365.0 624.7M388 604.5L342.7 624.3M388 604.5L325.2 624.0M388 604.5L306.8 623.5M388 604.5L302.7 623.8M388 604.5L314.3 629.0M388 604.5L355.2 632.3M388 604.5L338.5 633.8M388 604.5L313.2 636.0M388 604.5L381.3 634.3M388 604.5L373.5 638.5M388 604.5L381.7 641.0M388 604.5L395.5 640.0M388 604.5L321.8 644.0M388 604.5L377.7 646.0M388 604.5L344.3 647.2M388 604.5L410.3 652.3M388 604.5L381.5 654.3M388 604.5L319.0 654.7M388 604.5L373.7 656.3M388 604.5L329.3 656.8M388 604.5L351.3 656.8M388 604.5L312.7 659.8M388 604.5L318.8 659.3M388 604.5L387.3 663.2M388 604.5L374.3 663.8M388 604.5L337.7 665.5M388 604.5L364.0 667.0M388 604.5L413.8 664.0M388 604.5L373.0 670.7M388 604.5L381.8 671.3M388 604.5L373.0 674.3M388 604.5L342.3 671.7M388 604.5L325.5 675.0M388 604.5L406.3 675.5M388 604.5L394.3 679.3M388 604.5L355.2 683.2M388 604.5L403.0 683.5M388 604.5L398.0 689.3M388 604.5L482.3 565.2M388 604.5L472.7 568.0M388 604.5L527.3 569.0M388 604.5L467.3 572.0M388 604.5L416.3 573.2M388 604.5L446.2 577.7M388 604.5L447.3 580.5M388 604.5L430.3 586.8M388 604.5L485.2 585.0M388 604.5L490.3 586.8M388 604.5L508.7 584.3M388 604.5L531.2 587.3M388 604.5L415.7 591.5M388 604.5L470.3 594.7M388 604.5L526.7 601.0M388 604.5L526.7 603.0M388 604.5L484.3 607.3M388 604.5L520.2 608.8M388 604.5L466.0 609.8M388 604.5L437.7 613.0M388 604.5L479.3 614.0M388 604.5L421.0 614.0M388 604.5L421.8 617.7M388 604.5L475.0 624.3M388 604.5L475.8 627.2M388 604.5L437.0 628.5M388 604.5L443.7 637.0M388 604.5L495.3 638.2M388 604.5L511.8 637.3M388 604.5L443.0 643.7M388 604.5L477.7 643.5M388 604.5L454.0 650.5M388 604.5L517.8 649.8M388 604.5L499.3 656.7M388 604.5L433.7 660.7M388 604.5L417.0 660.7M388 604.5L450.3 666.2M388 604.5L472.0 666.3M388 604.5L425.2 671.8M388 604.5L498.7 672.2M388 604.5L517.7 675.5M388 604.5L446.0 676.5M388 604.5L477.7 678.2M388 604.5L491.0 678.2M388 604.5L462.0 683.0M388 604.5L480.7 689.3M388 604.5L425.7 692.3M388 604.5L429.5 693.5M388 604.5L567.5 566.3M388 604.5L542.0 590.2M388 604.5L535.0 593.8M388 604.5L547.0 598.0M388 604.5L545.3 601.0M388 604.5L563.0 601.3M388 604.5L538.7 628.5M388 604.5L533.7 635.2M388 604.5L344.5 701.3M388 604.5L370.3 700M388 604.5L391.3 698.7M388 604.5L378.3 713M388 604.5L405.5 711.3M388 604.5L433 713.8M388 604.5L457.8 711.2M388 604.5L471.2 706.2M388 604.5L490 721.3M385 605L258.5 462.5M385 605L202.7 522.5M385 605L222.5 559.3M385 605L291.3 560.0M385 605L301.0 448.0M385 605L372.3 433.5M385 605L350.7 488.3M385 605L398.0 492.5M385 605L302.3 499.7M385 605L359.0 506.7M385 605L363.7 509.2M385 605L388.3 511.3M385 605L384.3 522.5M385 605L323.5 540.5M385 605L379.8 540.8M385 605L325.5 546.7M385 605L324.0 557.2M385 605L340.2 558.8M385 605L444.0 476.2M385 605L440.0 491.3M385 605L487.3 503.8M385 605L490.3 508.5M385 605L484.7 511.0M385 605L472.3 512.5M385 605L490.7 524.7M385 605L531.7 520.5M385 605L512.0 541.0M385 605L446.2 545.8M385 605L451.8 552.2M385 605L492.3 556.3M385 605L570.0 531.3M385 605L543.2 543.0M385 605L545.8 549.3M385 605L288.3 563.0M385 605L289.3 567.3M385 605L242.7 580.2M385 605L250.7 599.8M385 605L277.5 603.8M385 605L292.2 601.0M385 605L290.0 604.3M385 605L234.3 614.7M385 605L249.3 643.2M385 605L293.0 637.7M385 605L278.0 663.2M385 605L295.7 658.5M385 605L370.5 567.2M385 605L377.2 568.0M385 605L353.8 573.5M385 605L381.8 576.8M385 605L329.0 579.0M385 605L305.2 582.7M385 605L374.3 583.2M385 605L361.8 589.7M385 605L413.7 582.7M385 605L401.8 592.2M385 605L306.0 593.5M385 605L303.5 599.3M385 605L309.0 600.7M385 605L296.8 605.7M385 605L362.2 611.0M385 605L320.5 614.3M385 605L368.5 616.0M385 605L334.3 619.3M385 605L359.3 619.3M385 605L388.5 623.0M385 605L316.0 625.2M385 605L308.5 626.0M385 605L334.0 629.3M385 605L299.3 631.3M385 605L334.0 632.3M385 605L404.8 629.0M385 605L378.8 631.8M385 605L381.8 635.2M385 605L409.0 635.2M385 605L411.5 638.5M385 605L358.8 639.0M385 605L348.2 648.0M385 605L354.3 649.8M385 605L297.7 658.0M385 605L339.0 655.5M385 605L404.8 653.8M385 605L397.3 657.7M385 605L357.3 658.5M385 605L353.5 662.2M385 605L409.0 666.0M385 605L406.5 671.3M385 605L351.8 675.2M385 605L382.7 674.3M385 605L383.5 679.3M385 605L388.8 679.3M385 605L335.2 684.8M385 605L401.3 685.2M385 605L512.7 574.3M385 605L430.3 596.5M385 605L448.2 600.7M385 605L503.5 597.2M385 605L499.8 601.8M385 605L506.5 608.5M385 605L439.0 610.2M385 605L482.8 615.7M385 605L459.0 632.2M385 605L473.2 633.2M385 605L477.8 633.2M385 605L519.3 633.0M385 605L431.5 637.7M385 605L524.0 643.0M385 605L416.0 643.8M385 605L463.7 646.3M385 605L472.3 646.0M385 605L428.7 647.7M385 605L430.7 648.8M385 605L440.7 651.0M385 605L456.2 659.0M385 605L467.0 658.0M385 605L437.3 675.2M385 605L482.8 676.8M385 605L539.2 566.5M385 605L567.5 568.5M385 605L543.7 583.2M385 605L543.7 591.0M385 605L556.7 638.2M385 605L308.3 714.2M385 605L318.2 705.3M385 605L360.5 707.2M385 605L388.8 721.7" stroke="#b9b9b9" stroke-width="1.3" fill="none"/>
<path d="M258.5 462.5 L301 448 L372.3 433.5 L570 531.3 L567.5 568.5 L556.7 638.2 L388.8 721.7 L308.3 714.2 L249.3 643.2 L234.3 614.7 L202.7 522.5Z" stroke="#e1566e" stroke-width="1.3" fill="none" stroke-linejoin="round"/>
<path d="M183.8 520.7 L190.8 514.3 L315.7 470.3 L552.3 438.3 L590.3 503 L590.3 527 L579.8 559.7 L563 601.3 L490 721.3 L378.3 713 L344.5 701.3 L283.3 677.2 L245.3 647.8Z" stroke="#1a1a1a" stroke-width="1.55" fill="none" stroke-linejoin="round"/>
<path d="M258.5 459.6L261.05 464.0L255.95 464.0ZM202.7 519.6L205.25 524.0L200.14999999999998 524.0ZM222.5 556.4L225.05 560.8L219.95 560.8ZM291.3 557.1L293.85 561.5L288.75 561.5ZM301.0 445.1L303.55 449.5L298.45 449.5ZM372.3 430.6L374.85 435.0L369.75 435.0ZM350.7 485.40000000000003L353.25 489.8L348.15 489.8ZM398.0 489.6L400.55 494.0L395.45 494.0ZM302.3 496.8L304.85 501.2L299.75 501.2ZM359.0 503.8L361.55 508.2L356.45 508.2ZM363.7 506.3L366.25 510.7L361.15 510.7ZM388.3 508.40000000000003L390.85 512.8L385.75 512.8ZM384.3 519.6L386.85 524.0L381.75 524.0ZM323.5 537.6L326.05 542.0L320.95 542.0ZM379.8 537.9L382.35 542.3L377.25 542.3ZM325.5 543.8000000000001L328.05 548.2L322.95 548.2ZM324.0 554.3000000000001L326.55 558.7L321.45 558.7ZM340.2 555.9L342.75 560.3L337.65 560.3ZM444.0 473.3L446.55 477.7L441.45 477.7ZM440.0 488.40000000000003L442.55 492.8L437.45 492.8ZM487.3 500.90000000000003L489.85 505.3L484.75 505.3ZM490.3 505.6L492.85 510.0L487.75 510.0ZM484.7 508.1L487.25 512.5L482.15 512.5ZM472.3 509.6L474.85 514.0L469.75 514.0ZM490.7 521.8000000000001L493.25 526.2L488.15 526.2ZM531.7 517.6L534.25 522.0L529.1500000000001 522.0ZM512.0 538.1L514.55 542.5L509.45 542.5ZM446.2 542.9L448.75 547.3L443.65 547.3ZM451.8 549.3000000000001L454.35 553.7L449.25 553.7ZM492.3 553.4L494.85 557.8L489.75 557.8ZM570.0 528.4L572.55 532.8L567.45 532.8ZM543.2 540.1L545.75 544.5L540.6500000000001 544.5ZM545.8 546.4L548.3499999999999 550.8L543.25 550.8ZM288.3 560.1L290.85 564.5L285.75 564.5ZM289.3 564.4L291.85 568.8L286.75 568.8ZM242.7 577.3000000000001L245.25 581.7L240.14999999999998 581.7ZM250.7 596.9L253.25 601.3L248.14999999999998 601.3ZM277.5 600.9L280.05 605.3L274.95 605.3ZM292.2 598.1L294.75 602.5L289.65 602.5ZM290.0 601.4L292.55 605.8L287.45 605.8ZM234.3 611.8000000000001L236.85000000000002 616.2L231.75 616.2ZM249.3 640.3000000000001L251.85000000000002 644.7L246.75 644.7ZM293.0 634.8000000000001L295.55 639.2L290.45 639.2ZM278.0 660.3000000000001L280.55 664.7L275.45 664.7ZM295.7 655.6L298.25 660.0L293.15 660.0ZM370.5 564.3000000000001L373.05 568.7L367.95 568.7ZM377.2 565.1L379.75 569.5L374.65 569.5ZM353.8 570.6L356.35 575.0L351.25 575.0ZM381.8 573.9L384.35 578.3L379.25 578.3ZM329.0 576.1L331.55 580.5L326.45 580.5ZM305.2 579.8000000000001L307.75 584.2L302.65 584.2ZM374.3 580.3000000000001L376.85 584.7L371.75 584.7ZM361.8 586.8000000000001L364.35 591.2L359.25 591.2ZM413.7 579.8000000000001L416.25 584.2L411.15 584.2ZM401.8 589.3000000000001L404.35 593.7L399.25 593.7ZM306.0 590.6L308.55 595.0L303.45 595.0ZM303.5 596.4L306.05 600.8L300.95 600.8ZM309.0 597.8000000000001L311.55 602.2L306.45 602.2ZM296.8 602.8000000000001L299.35 607.2L294.25 607.2ZM362.2 608.1L364.75 612.5L359.65 612.5ZM320.5 611.4L323.05 615.8L317.95 615.8ZM368.5 613.1L371.05 617.5L365.95 617.5ZM334.3 616.4L336.85 620.8L331.75 620.8ZM359.3 616.4L361.85 620.8L356.75 620.8ZM388.5 620.1L391.05 624.5L385.95 624.5ZM316.0 622.3000000000001L318.55 626.7L313.45 626.7ZM308.5 623.1L311.05 627.5L305.95 627.5ZM334.0 626.4L336.55 630.8L331.45 630.8ZM299.3 628.4L301.85 632.8L296.75 632.8ZM334.0 629.4L336.55 633.8L331.45 633.8ZM404.8 626.1L407.35 630.5L402.25 630.5ZM378.8 628.9L381.35 633.3L376.25 633.3ZM381.8 632.3000000000001L384.35 636.7L379.25 636.7ZM409.0 632.3000000000001L411.55 636.7L406.45 636.7ZM411.5 635.6L414.05 640.0L408.95 640.0ZM358.8 636.1L361.35 640.5L356.25 640.5ZM348.2 645.1L350.75 649.5L345.65 649.5ZM354.3 646.9L356.85 651.3L351.75 651.3ZM297.7 655.1L300.25 659.5L295.15 659.5ZM339.0 652.6L341.55 657.0L336.45 657.0ZM404.8 650.9L407.35 655.3L402.25 655.3ZM397.3 654.8000000000001L399.85 659.2L394.75 659.2ZM357.3 655.6L359.85 660.0L354.75 660.0ZM353.5 659.3000000000001L356.05 663.7L350.95 663.7ZM409.0 663.1L411.55 667.5L406.45 667.5ZM406.5 668.4L409.05 672.8L403.95 672.8ZM351.8 672.3000000000001L354.35 676.7L349.25 676.7ZM382.7 671.4L385.25 675.8L380.15 675.8ZM383.5 676.4L386.05 680.8L380.95 680.8ZM388.8 676.4L391.35 680.8L386.25 680.8ZM335.2 681.9L337.75 686.3L332.65 686.3ZM401.3 682.3000000000001L403.85 686.7L398.75 686.7ZM512.7 571.4L515.25 575.8L510.15000000000003 575.8ZM430.3 593.6L432.85 598.0L427.75 598.0ZM448.2 597.8000000000001L450.75 602.2L445.65 602.2ZM503.5 594.3000000000001L506.05 598.7L500.95 598.7ZM499.8 598.9L502.35 603.3L497.25 603.3ZM506.5 605.6L509.05 610.0L503.95 610.0ZM439.0 607.3000000000001L441.55 611.7L436.45 611.7ZM482.8 612.8000000000001L485.35 617.2L480.25 617.2ZM459.0 629.3000000000001L461.55 633.7L456.45 633.7ZM473.2 630.3000000000001L475.75 634.7L470.65 634.7ZM477.8 630.3000000000001L480.35 634.7L475.25 634.7ZM519.3 630.1L521.8499999999999 634.5L516.75 634.5ZM431.5 634.8000000000001L434.05 639.2L428.95 639.2ZM524.0 640.1L526.55 644.5L521.45 644.5ZM416.0 640.9L418.55 645.3L413.45 645.3ZM463.7 643.4L466.25 647.8L461.15 647.8ZM472.3 643.1L474.85 647.5L469.75 647.5ZM428.7 644.8000000000001L431.25 649.2L426.15 649.2ZM430.7 645.9L433.25 650.3L428.15 650.3ZM440.7 648.1L443.25 652.5L438.15 652.5ZM456.2 656.1L458.75 660.5L453.65 660.5ZM467.0 655.1L469.55 659.5L464.45 659.5ZM437.3 672.3000000000001L439.85 676.7L434.75 676.7ZM482.8 673.9L485.35 678.3L480.25 678.3ZM539.2 563.6L541.75 568.0L536.6500000000001 568.0ZM567.5 565.6L570.05 570.0L564.95 570.0ZM543.7 580.3000000000001L546.25 584.7L541.1500000000001 584.7ZM543.7 588.1L546.25 592.5L541.1500000000001 592.5ZM556.7 635.3000000000001L559.25 639.7L554.1500000000001 639.7ZM308.3 711.3000000000001L310.85 715.7L305.75 715.7ZM318.2 702.4L320.75 706.8L315.65 706.8ZM360.5 704.3000000000001L363.05 708.7L357.95 708.7ZM388.8 718.8000000000001L391.35 723.2L386.25 723.2Z" stroke="#e1566e" stroke-width="1.25" fill="none"/>
<path d="M247.64999999999998 494.2a2.05 2.05 0 1 0 4.1 0a2.05 2.05 0 1 0 -4.1 0ZM247.64999999999998 496.3a2.05 2.05 0 1 0 4.1 0a2.05 2.05 0 1 0 -4.1 0ZM289.25 494.7a2.05 2.05 0 1 0 4.1 0a2.05 2.05 0 1 0 -4.1 0ZM237.64999999999998 502.5a2.05 2.05 0 1 0 4.1 0a2.05 2.05 0 1 0 -4.1 0ZM288.25 503.8a2.05 2.05 0 1 0 4.1 0a2.05 2.05 0 1 0 -4.1 0ZM214.25 508.8a2.05 2.05 0 1 0 4.1 0a2.05 2.05 0 1 0 -4.1 0ZM216.64999999999998 509.7a2.05 2.05 0 1 0 4.1 0a2.05 2.05 0 1 0 -4.1 0ZM223.45 510.3a2.05 2.05 0 1 0 4.1 0a2.05 2.05 0 1 0 -4.1 0ZM188.75 514.3a2.05 2.05 0 1 0 4.1 0a2.05 2.05 0 1 0 -4.1 0ZM181.75 520.7a2.05 2.05 0 1 0 4.1 0a2.05 2.05 0 1 0 -4.1 0ZM290.15 520.5a2.05 2.05 0 1 0 4.1 0a2.05 2.05 0 1 0 -4.1 0ZM232.25 521.7a2.05 2.05 0 1 0 4.1 0a2.05 2.05 0 1 0 -4.1 0ZM248.25 524.7a2.05 2.05 0 1 0 4.1 0a2.05 2.05 0 1 0 -4.1 0ZM217.64999999999998 525.5a2.05 2.05 0 1 0 4.1 0a2.05 2.05 0 1 0 -4.1 0ZM239.25 528.7a2.05 2.05 0 1 0 4.1 0a2.05 2.05 0 1 0 -4.1 0ZM223.14999999999998 536.7a2.05 2.05 0 1 0 4.1 0a2.05 2.05 0 1 0 -4.1 0ZM236.75 539.0a2.05 2.05 0 1 0 4.1 0a2.05 2.05 0 1 0 -4.1 0ZM270.15 536.8a2.05 2.05 0 1 0 4.1 0a2.05 2.05 0 1 0 -4.1 0ZM270.45 540.7a2.05 2.05 0 1 0 4.1 0a2.05 2.05 0 1 0 -4.1 0ZM260.15 543.5a2.05 2.05 0 1 0 4.1 0a2.05 2.05 0 1 0 -4.1 0ZM226.45 549.7a2.05 2.05 0 1 0 4.1 0a2.05 2.05 0 1 0 -4.1 0ZM293.75 549.7a2.05 2.05 0 1 0 4.1 0a2.05 2.05 0 1 0 -4.1 0ZM290.15 557.7a2.05 2.05 0 1 0 4.1 0a2.05 2.05 0 1 0 -4.1 0ZM255.64999999999998 560.5a2.05 2.05 0 1 0 4.1 0a2.05 2.05 0 1 0 -4.1 0ZM313.65 470.3a2.05 2.05 0 1 0 4.1 0a2.05 2.05 0 1 0 -4.1 0ZM379.65 471.0a2.05 2.05 0 1 0 4.1 0a2.05 2.05 0 1 0 -4.1 0ZM409.65 516.8a2.05 2.05 0 1 0 4.1 0a2.05 2.05 0 1 0 -4.1 0ZM373.95 519.8a2.05 2.05 0 1 0 4.1 0a2.05 2.05 0 1 0 -4.1 0ZM321.65 525.0a2.05 2.05 0 1 0 4.1 0a2.05 2.05 0 1 0 -4.1 0ZM348.45 530.0a2.05 2.05 0 1 0 4.1 0a2.05 2.05 0 1 0 -4.1 0ZM315.65 533.3a2.05 2.05 0 1 0 4.1 0a2.05 2.05 0 1 0 -4.1 0ZM365.15 545.5a2.05 2.05 0 1 0 4.1 0a2.05 2.05 0 1 0 -4.1 0ZM390.65 545.8a2.05 2.05 0 1 0 4.1 0a2.05 2.05 0 1 0 -4.1 0ZM399.95 548.8a2.05 2.05 0 1 0 4.1 0a2.05 2.05 0 1 0 -4.1 0ZM325.65 553.3a2.05 2.05 0 1 0 4.1 0a2.05 2.05 0 1 0 -4.1 0ZM346.15 555.0a2.05 2.05 0 1 0 4.1 0a2.05 2.05 0 1 0 -4.1 0ZM296.25 560.5a2.05 2.05 0 1 0 4.1 0a2.05 2.05 0 1 0 -4.1 0ZM460.65 492.7a2.05 2.05 0 1 0 4.1 0a2.05 2.05 0 1 0 -4.1 0ZM456.65 498.5a2.05 2.05 0 1 0 4.1 0a2.05 2.05 0 1 0 -4.1 0ZM434.45 499.3a2.05 2.05 0 1 0 4.1 0a2.05 2.05 0 1 0 -4.1 0ZM520.95 493.3a2.05 2.05 0 1 0 4.1 0a2.05 2.05 0 1 0 -4.1 0ZM468.65 508.5a2.05 2.05 0 1 0 4.1 0a2.05 2.05 0 1 0 -4.1 0ZM509.45 505.8a2.05 2.05 0 1 0 4.1 0a2.05 2.05 0 1 0 -4.1 0ZM515.6500000000001 509.7a2.05 2.05 0 1 0 4.1 0a2.05 2.05 0 1 0 -4.1 0ZM455.65 516.0a2.05 2.05 0 1 0 4.1 0a2.05 2.05 0 1 0 -4.1 0ZM457.25 516.0a2.05 2.05 0 1 0 4.1 0a2.05 2.05 0 1 0 -4.1 0ZM454.25 533.3a2.05 2.05 0 1 0 4.1 0a2.05 2.05 0 1 0 -4.1 0ZM499.45 531.7a2.05 2.05 0 1 0 4.1 0a2.05 2.05 0 1 0 -4.1 0ZM529.6500000000001 539.3a2.05 2.05 0 1 0 4.1 0a2.05 2.05 0 1 0 -4.1 0ZM485.75 548.3a2.05 2.05 0 1 0 4.1 0a2.05 2.05 0 1 0 -4.1 0ZM525.6500000000001 549.2a2.05 2.05 0 1 0 4.1 0a2.05 2.05 0 1 0 -4.1 0ZM462.65 556.8a2.05 2.05 0 1 0 4.1 0a2.05 2.05 0 1 0 -4.1 0ZM524.75 557.2a2.05 2.05 0 1 0 4.1 0a2.05 2.05 0 1 0 -4.1 0ZM550.25 438.3a2.05 2.05 0 1 0 4.1 0a2.05 2.05 0 1 0 -4.1 0ZM549.95 491.7a2.05 2.05 0 1 0 4.1 0a2.05 2.05 0 1 0 -4.1 0ZM561.95 490.2a2.05 2.05 0 1 0 4.1 0a2.05 2.05 0 1 0 -4.1 0ZM588.25 503.0a2.05 2.05 0 1 0 4.1 0a2.05 2.05 0 1 0 -4.1 0ZM554.45 520.7a2.05 2.05 0 1 0 4.1 0a2.05 2.05 0 1 0 -4.1 0ZM588.25 527.0a2.05 2.05 0 1 0 4.1 0a2.05 2.05 0 1 0 -4.1 0ZM532.95 521.3a2.05 2.05 0 1 0 4.1 0a2.05 2.05 0 1 0 -4.1 0ZM537.45 543.0a2.05 2.05 0 1 0 4.1 0a2.05 2.05 0 1 0 -4.1 0ZM553.25 547.5a2.05 2.05 0 1 0 4.1 0a2.05 2.05 0 1 0 -4.1 0ZM577.75 559.7a2.05 2.05 0 1 0 4.1 0a2.05 2.05 0 1 0 -4.1 0ZM257.65 574.3a2.05 2.05 0 1 0 4.1 0a2.05 2.05 0 1 0 -4.1 0ZM267.45 583.2a2.05 2.05 0 1 0 4.1 0a2.05 2.05 0 1 0 -4.1 0ZM275.15 588.2a2.05 2.05 0 1 0 4.1 0a2.05 2.05 0 1 0 -4.1 0ZM257.65 603.5a2.05 2.05 0 1 0 4.1 0a2.05 2.05 0 1 0 -4.1 0ZM284.25 605.2a2.05 2.05 0 1 0 4.1 0a2.05 2.05 0 1 0 -4.1 0ZM257.15 609.8a2.05 2.05 0 1 0 4.1 0a2.05 2.05 0 1 0 -4.1 0ZM254.64999999999998 611.8a2.05 2.05 0 1 0 4.1 0a2.05 2.05 0 1 0 -4.1 0ZM235.45 614.3a2.05 2.05 0 1 0 4.1 0a2.05 2.05 0 1 0 -4.1 0ZM244.95 627.8a2.05 2.05 0 1 0 4.1 0a2.05 2.05 0 1 0 -4.1 0ZM285.45 625.3a2.05 2.05 0 1 0 4.1 0a2.05 2.05 0 1 0 -4.1 0ZM292.15 624.7a2.05 2.05 0 1 0 4.1 0a2.05 2.05 0 1 0 -4.1 0ZM290.95 628.8a2.05 2.05 0 1 0 4.1 0a2.05 2.05 0 1 0 -4.1 0ZM243.25 647.8a2.05 2.05 0 1 0 4.1 0a2.05 2.05 0 1 0 -4.1 0ZM279.25 649.3a2.05 2.05 0 1 0 4.1 0a2.05 2.05 0 1 0 -4.1 0ZM275.45 652.7a2.05 2.05 0 1 0 4.1 0a2.05 2.05 0 1 0 -4.1 0ZM288.45 656.3a2.05 2.05 0 1 0 4.1 0a2.05 2.05 0 1 0 -4.1 0ZM289.25 668.5a2.05 2.05 0 1 0 4.1 0a2.05 2.05 0 1 0 -4.1 0ZM281.25 677.2a2.05 2.05 0 1 0 4.1 0a2.05 2.05 0 1 0 -4.1 0ZM402.25 564.0a2.05 2.05 0 1 0 4.1 0a2.05 2.05 0 1 0 -4.1 0ZM399.45 568.5a2.05 2.05 0 1 0 4.1 0a2.05 2.05 0 1 0 -4.1 0ZM340.95 570.2a2.05 2.05 0 1 0 4.1 0a2.05 2.05 0 1 0 -4.1 0ZM329.75 572.3a2.05 2.05 0 1 0 4.1 0a2.05 2.05 0 1 0 -4.1 0ZM326.75 579.7a2.05 2.05 0 1 0 4.1 0a2.05 2.05 0 1 0 -4.1 0ZM358.95 589.3a2.05 2.05 0 1 0 4.1 0a2.05 2.05 0 1 0 -4.1 0ZM357.25 593.5a2.05 2.05 0 1 0 4.1 0a2.05 2.05 0 1 0 -4.1 0ZM381.25 593.2a2.05 2.05 0 1 0 4.1 0a2.05 2.05 0 1 0 -4.1 0ZM320.95 595.2a2.05 2.05 0 1 0 4.1 0a2.05 2.05 0 1 0 -4.1 0ZM338.25 594.3a2.05 2.05 0 1 0 4.1 0a2.05 2.05 0 1 0 -4.1 0ZM307.65 596.5a2.05 2.05 0 1 0 4.1 0a2.05 2.05 0 1 0 -4.1 0ZM325.65 599.3a2.05 2.05 0 1 0 4.1 0a2.05 2.05 0 1 0 -4.1 0ZM345.15 598.3a2.05 2.05 0 1 0 4.1 0a2.05 2.05 0 1 0 -4.1 0ZM401.65 595.5a2.05 2.05 0 1 0 4.1 0a2.05 2.05 0 1 0 -4.1 0ZM408.15 598.0a2.05 2.05 0 1 0 4.1 0a2.05 2.05 0 1 0 -4.1 0ZM404.25 601.0a2.05 2.05 0 1 0 4.1 0a2.05 2.05 0 1 0 -4.1 0ZM303.95 606.3a2.05 2.05 0 1 0 4.1 0a2.05 2.05 0 1 0 -4.1 0ZM334.75 609.0a2.05 2.05 0 1 0 4.1 0a2.05 2.05 0 1 0 -4.1 0ZM331.65 612.3a2.05 2.05 0 1 0 4.1 0a2.05 2.05 0 1 0 -4.1 0ZM338.65 615.7a2.05 2.05 0 1 0 4.1 0a2.05 2.05 0 1 0 -4.1 0ZM404.45 615.2a2.05 2.05 0 1 0 4.1 0a2.05 2.05 0 1 0 -4.1 0ZM374.45 619.3a2.05 2.05 0 1 0 4.1 0a2.05 2.05 0 1 0 -4.1 0ZM381.15 619.7a2.05 2.05 0 1 0 4.1 0a2.05 2.05 0 1 0 -4.1 0ZM400.25 619.8a2.05 2.05 0 1 0 4.1 0a2.05 2.05 0 1 0 -4.1 0ZM393.65 622.0a2.05 2.05 0 1 0 4.1 0a2.05 2.05 0 1 0 -4.1 0ZM387.25 624.3a2.05 2.05 0 1 0 4.1 0a2.05 2.05 0 1 0 -4.1 0ZM411.25 620.7a2.05 2.05 0 1 0 4.1 0a2.05 2.05 0 1 0 -4.1 0ZM348.15 622.3a2.05 2.05 0 1 0 4.1 0a2.05 2.05 0 1 0 -4.1 0ZM362.95 624.7a2.05 2.05 0 1 0 4.1 0a2.05 2.05 0 1 0 -4.1 0ZM340.65 624.3a2.05 2.05 0 1 0 4.1 0a2.05 2.05 0 1 0 -4.1 0ZM323.15 624.0a2.05 2.05 0 1 0 4.1 0a2.05 2.05 0 1 0 -4.1 0ZM304.75 623.5a2.05 2.05 0 1 0 4.1 0a2.05 2.05 0 1 0 -4.1 0ZM300.65 623.8a2.05 2.05 0 1 0 4.1 0a2.05 2.05 0 1 0 -4.1 0ZM312.25 629.0a2.05 2.05 0 1 0 4.1 0a2.05 2.05 0 1 0 -4.1 0ZM353.15 632.3a2.05 2.05 0 1 0 4.1 0a2.05 2.05 0 1 0 -4.1 0ZM336.45 633.8a2.05 2.05 0 1 0 4.1 0a2.05 2.05 0 1 0 -4.1 0ZM311.15 636.0a2.05 2.05 0 1 0 4.1 0a2.05 2.05 0 1 0 -4.1 0ZM379.25 634.3a2.05 2.05 0 1 0 4.1 0a2.05 2.05 0 1 0 -4.1 0ZM371.45 638.5a2.05 2.05 0 1 0 4.1 0a2.05 2.05 0 1 0 -4.1 0ZM379.65 641.0a2.05 2.05 0 1 0 4.1 0a2.05 2.05 0 1 0 -4.1 0ZM393.45 640.0a2.05 2.05 0 1 0 4.1 0a2.05 2.05 0 1 0 -4.1 0ZM319.75 644.0a2.05 2.05 0 1 0 4.1 0a2.05 2.05 0 1 0 -4.1 0ZM375.65 646.0a2.05 2.05 0 1 0 4.1 0a2.05 2.05 0 1 0 -4.1 0ZM342.25 647.2a2.05 2.05 0 1 0 4.1 0a2.05 2.05 0 1 0 -4.1 0ZM408.25 652.3a2.05 2.05 0 1 0 4.1 0a2.05 2.05 0 1 0 -4.1 0ZM379.45 654.3a2.05 2.05 0 1 0 4.1 0a2.05 2.05 0 1 0 -4.1 0ZM316.95 654.7a2.05 2.05 0 1 0 4.1 0a2.05 2.05 0 1 0 -4.1 0ZM371.65 656.3a2.05 2.05 0 1 0 4.1 0a2.05 2.05 0 1 0 -4.1 0ZM327.25 656.8a2.05 2.05 0 1 0 4.1 0a2.05 2.05 0 1 0 -4.1 0ZM349.25 656.8a2.05 2.05 0 1 0 4.1 0a2.05 2.05 0 1 0 -4.1 0ZM310.65 659.8a2.05 2.05 0 1 0 4.1 0a2.05 2.05 0 1 0 -4.1 0ZM316.75 659.3a2.05 2.05 0 1 0 4.1 0a2.05 2.05 0 1 0 -4.1 0ZM385.25 663.2a2.05 2.05 0 1 0 4.1 0a2.05 2.05 0 1 0 -4.1 0ZM372.25 663.8a2.05 2.05 0 1 0 4.1 0a2.05 2.05 0 1 0 -4.1 0ZM335.65 665.5a2.05 2.05 0 1 0 4.1 0a2.05 2.05 0 1 0 -4.1 0ZM361.95 667.0a2.05 2.05 0 1 0 4.1 0a2.05 2.05 0 1 0 -4.1 0ZM411.75 664.0a2.05 2.05 0 1 0 4.1 0a2.05 2.05 0 1 0 -4.1 0ZM370.95 670.7a2.05 2.05 0 1 0 4.1 0a2.05 2.05 0 1 0 -4.1 0ZM379.75 671.3a2.05 2.05 0 1 0 4.1 0a2.05 2.05 0 1 0 -4.1 0ZM370.95 674.3a2.05 2.05 0 1 0 4.1 0a2.05 2.05 0 1 0 -4.1 0ZM340.25 671.7a2.05 2.05 0 1 0 4.1 0a2.05 2.05 0 1 0 -4.1 0ZM323.45 675.0a2.05 2.05 0 1 0 4.1 0a2.05 2.05 0 1 0 -4.1 0ZM404.25 675.5a2.05 2.05 0 1 0 4.1 0a2.05 2.05 0 1 0 -4.1 0ZM392.25 679.3a2.05 2.05 0 1 0 4.1 0a2.05 2.05 0 1 0 -4.1 0ZM353.15 683.2a2.05 2.05 0 1 0 4.1 0a2.05 2.05 0 1 0 -4.1 0ZM400.95 683.5a2.05 2.05 0 1 0 4.1 0a2.05 2.05 0 1 0 -4.1 0ZM395.95 689.3a2.05 2.05 0 1 0 4.1 0a2.05 2.05 0 1 0 -4.1 0ZM480.25 565.2a2.05 2.05 0 1 0 4.1 0a2.05 2.05 0 1 0 -4.1 0ZM470.65 568.0a2.05 2.05 0 1 0 4.1 0a2.05 2.05 0 1 0 -4.1 0ZM525.25 569.0a2.05 2.05 0 1 0 4.1 0a2.05 2.05 0 1 0 -4.1 0ZM465.25 572.0a2.05 2.05 0 1 0 4.1 0a2.05 2.05 0 1 0 -4.1 0ZM414.25 573.2a2.05 2.05 0 1 0 4.1 0a2.05 2.05 0 1 0 -4.1 0ZM444.15 577.7a2.05 2.05 0 1 0 4.1 0a2.05 2.05 0 1 0 -4.1 0ZM445.25 580.5a2.05 2.05 0 1 0 4.1 0a2.05 2.05 0 1 0 -4.1 0ZM428.25 586.8a2.05 2.05 0 1 0 4.1 0a2.05 2.05 0 1 0 -4.1 0ZM483.15 585.0a2.05 2.05 0 1 0 4.1 0a2.05 2.05 0 1 0 -4.1 0ZM488.25 586.8a2.05 2.05 0 1 0 4.1 0a2.05 2.05 0 1 0 -4.1 0ZM506.65 584.3a2.05 2.05 0 1 0 4.1 0a2.05 2.05 0 1 0 -4.1 0ZM529.1500000000001 587.3a2.05 2.05 0 1 0 4.1 0a2.05 2.05 0 1 0 -4.1 0ZM413.65 591.5a2.05 2.05 0 1 0 4.1 0a2.05 2.05 0 1 0 -4.1 0ZM468.25 594.7a2.05 2.05 0 1 0 4.1 0a2.05 2.05 0 1 0 -4.1 0ZM524.6500000000001 601.0a2.05 2.05 0 1 0 4.1 0a2.05 2.05 0 1 0 -4.1 0ZM524.6500000000001 603.0a2.05 2.05 0 1 0 4.1 0a2.05 2.05 0 1 0 -4.1 0ZM482.25 607.3a2.05 2.05 0 1 0 4.1 0a2.05 2.05 0 1 0 -4.1 0ZM518.1500000000001 608.8a2.05 2.05 0 1 0 4.1 0a2.05 2.05 0 1 0 -4.1 0ZM463.95 609.8a2.05 2.05 0 1 0 4.1 0a2.05 2.05 0 1 0 -4.1 0ZM435.65 613.0a2.05 2.05 0 1 0 4.1 0a2.05 2.05 0 1 0 -4.1 0ZM477.25 614.0a2.05 2.05 0 1 0 4.1 0a2.05 2.05 0 1 0 -4.1 0ZM418.95 614.0a2.05 2.05 0 1 0 4.1 0a2.05 2.05 0 1 0 -4.1 0ZM419.75 617.7a2.05 2.05 0 1 0 4.1 0a2.05 2.05 0 1 0 -4.1 0ZM472.95 624.3a2.05 2.05 0 1 0 4.1 0a2.05 2.05 0 1 0 -4.1 0ZM473.75 627.2a2.05 2.05 0 1 0 4.1 0a2.05 2.05 0 1 0 -4.1 0ZM434.95 628.5a2.05 2.05 0 1 0 4.1 0a2.05 2.05 0 1 0 -4.1 0ZM441.65 637.0a2.05 2.05 0 1 0 4.1 0a2.05 2.05 0 1 0 -4.1 0ZM493.25 638.2a2.05 2.05 0 1 0 4.1 0a2.05 2.05 0 1 0 -4.1 0ZM509.75 637.3a2.05 2.05 0 1 0 4.1 0a2.05 2.05 0 1 0 -4.1 0ZM440.95 643.7a2.05 2.05 0 1 0 4.1 0a2.05 2.05 0 1 0 -4.1 0ZM475.65 643.5a2.05 2.05 0 1 0 4.1 0a2.05 2.05 0 1 0 -4.1 0ZM451.95 650.5a2.05 2.05 0 1 0 4.1 0a2.05 2.05 0 1 0 -4.1 0ZM515.75 649.8a2.05 2.05 0 1 0 4.1 0a2.05 2.05 0 1 0 -4.1 0ZM497.25 656.7a2.05 2.05 0 1 0 4.1 0a2.05 2.05 0 1 0 -4.1 0ZM431.65 660.7a2.05 2.05 0 1 0 4.1 0a2.05 2.05 0 1 0 -4.1 0ZM414.95 660.7a2.05 2.05 0 1 0 4.1 0a2.05 2.05 0 1 0 -4.1 0ZM448.25 666.2a2.05 2.05 0 1 0 4.1 0a2.05 2.05 0 1 0 -4.1 0ZM469.95 666.3a2.05 2.05 0 1 0 4.1 0a2.05 2.05 0 1 0 -4.1 0ZM423.15 671.8a2.05 2.05 0 1 0 4.1 0a2.05 2.05 0 1 0 -4.1 0ZM496.65 672.2a2.05 2.05 0 1 0 4.1 0a2.05 2.05 0 1 0 -4.1 0ZM515.6500000000001 675.5a2.05 2.05 0 1 0 4.1 0a2.05 2.05 0 1 0 -4.1 0ZM443.95 676.5a2.05 2.05 0 1 0 4.1 0a2.05 2.05 0 1 0 -4.1 0ZM475.65 678.2a2.05 2.05 0 1 0 4.1 0a2.05 2.05 0 1 0 -4.1 0ZM488.95 678.2a2.05 2.05 0 1 0 4.1 0a2.05 2.05 0 1 0 -4.1 0ZM459.95 683.0a2.05 2.05 0 1 0 4.1 0a2.05 2.05 0 1 0 -4.1 0ZM478.65 689.3a2.05 2.05 0 1 0 4.1 0a2.05 2.05 0 1 0 -4.1 0ZM423.65 692.3a2.05 2.05 0 1 0 4.1 0a2.05 2.05 0 1 0 -4.1 0ZM427.45 693.5a2.05 2.05 0 1 0 4.1 0a2.05 2.05 0 1 0 -4.1 0ZM565.45 566.3a2.05 2.05 0 1 0 4.1 0a2.05 2.05 0 1 0 -4.1 0ZM539.95 590.2a2.05 2.05 0 1 0 4.1 0a2.05 2.05 0 1 0 -4.1 0ZM532.95 593.8a2.05 2.05 0 1 0 4.1 0a2.05 2.05 0 1 0 -4.1 0ZM544.95 598.0a2.05 2.05 0 1 0 4.1 0a2.05 2.05 0 1 0 -4.1 0ZM543.25 601.0a2.05 2.05 0 1 0 4.1 0a2.05 2.05 0 1 0 -4.1 0ZM560.95 601.3a2.05 2.05 0 1 0 4.1 0a2.05 2.05 0 1 0 -4.1 0ZM536.6500000000001 628.5a2.05 2.05 0 1 0 4.1 0a2.05 2.05 0 1 0 -4.1 0ZM531.6500000000001 635.2a2.05 2.05 0 1 0 4.1 0a2.05 2.05 0 1 0 -4.1 0ZM342.45 701.3a2.05 2.05 0 1 0 4.1 0a2.05 2.05 0 1 0 -4.1 0ZM368.25 700a2.05 2.05 0 1 0 4.1 0a2.05 2.05 0 1 0 -4.1 0ZM389.25 698.7a2.05 2.05 0 1 0 4.1 0a2.05 2.05 0 1 0 -4.1 0ZM376.25 713a2.05 2.05 0 1 0 4.1 0a2.05 2.05 0 1 0 -4.1 0ZM403.45 711.3a2.05 2.05 0 1 0 4.1 0a2.05 2.05 0 1 0 -4.1 0ZM430.95 713.8a2.05 2.05 0 1 0 4.1 0a2.05 2.05 0 1 0 -4.1 0ZM455.75 711.2a2.05 2.05 0 1 0 4.1 0a2.05 2.05 0 1 0 -4.1 0ZM469.15 706.2a2.05 2.05 0 1 0 4.1 0a2.05 2.05 0 1 0 -4.1 0ZM487.95 721.3a2.05 2.05 0 1 0 4.1 0a2.05 2.05 0 1 0 -4.1 0Z" stroke="#1a1a1a" stroke-width="1.5" fill="none"/>
<rect x="70.1" y="422.6" width="634.4" height="311.19999999999993" fill="none" stroke="#141414" stroke-width="1.5"/>
<text x="75.77999999999997" y="763.2" text-anchor="middle" class="tl">−0.6</text>
<text x="181.01999999999998" y="763.2" text-anchor="middle" class="tl">−0.4</text>
<text x="286.26" y="763.2" text-anchor="middle" class="tl">−0.2</text>
<text x="391.5" y="763.2" text-anchor="middle" class="tl">0.0</text>
<text x="496.74" y="763.2" text-anchor="middle" class="tl">0.2</text>
<text x="601.98" y="763.2" text-anchor="middle" class="tl">0.4</text>
<text transform="translate(50.6 442.36000000000007) rotate(-90)" text-anchor="middle" class="tl">0.3</text>
<text transform="translate(50.6 495.04) rotate(-90)" text-anchor="middle" class="tl">0.2</text>
<text transform="translate(50.6 547.7200000000001) rotate(-90)" text-anchor="middle" class="tl">0.1</text>
<text transform="translate(50.6 600.4000000000001) rotate(-90)" text-anchor="middle" class="tl">0.0</text>
<text transform="translate(50.6 653.48) rotate(-90)" text-anchor="middle" class="tl">−0.1</text>
<text transform="translate(50.6 706.1600000000001) rotate(-90)" text-anchor="middle" class="tl">−0.2</text>
<path d="M75.77999999999997 733.8v8.5M181.01999999999998 733.8v8.5M286.26 733.8v8.5M391.5 733.8v8.5M496.74 733.8v8.5M601.98 733.8v8.5M70.1 442.1600000000001h-8.8M70.1 494.84000000000003h-8.8M70.1 547.5200000000001h-8.8M70.1 600.2h-8.8M70.1 652.88h-8.8M70.1 705.5600000000001h-8.8" stroke="#141414" stroke-width="1.45" fill="none"/>
<text x="386.0" y="795.7" text-anchor="middle" class="tl">PCoA 1</text>
<text transform="translate(18.6 578.2) rotate(-90)" text-anchor="middle" class="tl">PCoA 2</text>
<path d="M604 433.1L609.7 443.05L598.3 443.05Z" fill="none" stroke="#e8512b" stroke-width="1.3"/>
<circle cx="604" cy="459.6" r="4.5" fill="none" stroke="#1a1a1a" stroke-width="1.7"/>
<text x="615.4" y="443.7" class="lg" textLength="48.6" lengthAdjust="spacingAndGlyphs">caries</text>
<text x="615.4" y="464.2" class="lg" textLength="83.5" lengthAdjust="spacingAndGlyphs">cavity free</text>
</svg>
</body></html>
